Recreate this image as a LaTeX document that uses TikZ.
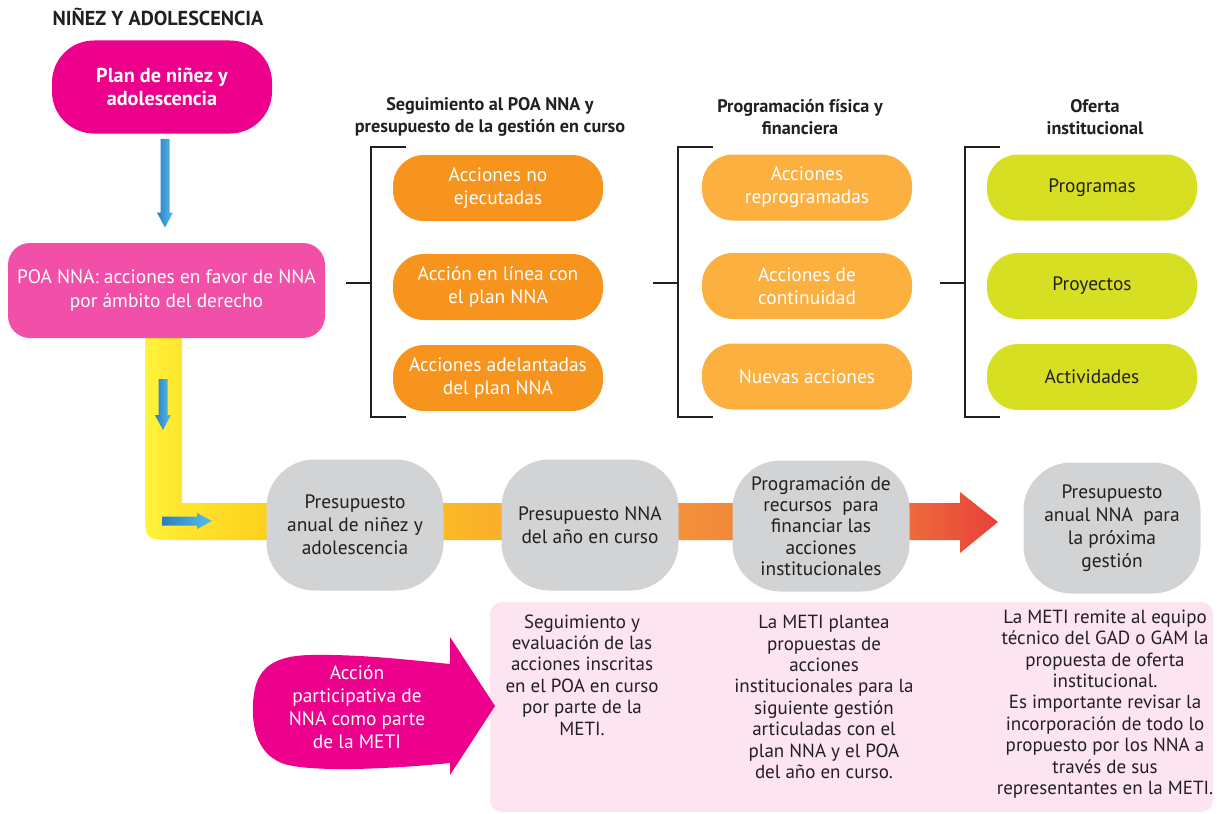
\documentclass[tikz,border=0pt]{standalone}
\usepackage{fontspec}
\setmainfont{PT Sans}
\usetikzlibrary{calc}

\definecolor{magentafuerte}{HTML}{EC008C}
\definecolor{rosapoa}{HTML}{F24FA9}
\definecolor{naranja}{HTML}{F7941E}
\definecolor{naranjaclaro}{HTML}{FBB040}
\definecolor{lima}{HTML}{D7DF23}
\definecolor{gris}{HTML}{D1D3D4}
\definecolor{rosapanel}{HTML}{FCE4F1}
\definecolor{tinta}{HTML}{231F20}
\definecolor{azulosc}{HTML}{2A7DC1}
\definecolor{azulcla}{HTML}{55C0EC}
\definecolor{am1}{HTML}{FFF33B}
\definecolor{am2}{HTML}{FFE52D}
\definecolor{am3}{HTML}{FDD31D}
\definecolor{nb1}{HTML}{FBB926}
\definecolor{nb2}{HTML}{F3903A}
\definecolor{rj1}{HTML}{EE6A3B}
\definecolor{rj2}{HTML}{E8403A}

\pgfdeclarehorizontalshading{banda}{100bp}{color(0bp)=(am1); color(25bp)=(am1);
  color(27.2bp)=(am2); color(31.7bp)=(am3); color(42.6bp)=(nb1); color(56.4bp)=(nb2);
  color(69.8bp)=(rj1); color(75bp)=(rj2); color(100bp)=(rj2)}

\newcommand{\letra}{\fontsize{9.7}{11.6}\selectfont}
\newcommand{\letrap}{\fontsize{9.5}{10.7}\selectfont}

% flechas azules (desde #1 hasta la punta #2)
\newcommand{\flechabaja}[2]{%
  \shade[flechaazul] ($(#1)+(-4.5,0)$) -- ($(#2)+(-4.5,-15)$) -- ($(#2)+(-8,-15)$) -- (#2)
    -- ($(#2)+(8,-15)$) -- ($(#2)+(4.5,-15)$) -- ($(#1)+(4.5,0)$) -- cycle;}
\newcommand{\flechader}[2]{%
  \shade[flechaazul] ($(#1)+(0,-4.5)$) -- ($(#2)+(-15,-4.5)$) -- ($(#2)+(-15,-8)$) -- (#2)
    -- ($(#2)+(-15,8)$) -- ($(#2)+(-15,4.5)$) -- ($(#1)+(0,4.5)$) -- cycle;}

\tikzset{
  titulo/.style={font=\fontsize{10.1}{12}\selectfont\bfseries, text=tinta},
  encabezado/.style={font=\fontsize{9.1}{11}\selectfont\bfseries, text=tinta, align=center},
  nube/.style={rounded corners=15.5pt, align=center, font=\letra, inner sep=0pt,
    minimum width=105pt, minimum height=33pt},
  accnaranja/.style={nube, fill=naranja, text=white},
  accclaro/.style={nube, fill=naranjaclaro, text=white},
  oferta/.style={nube, fill=lima, text=tinta},
  presup/.style={nube, fill=gris, text=tinta, rounded corners=24pt,
    minimum width=88.5pt, minimum height=65.5pt},
  corchete/.style={line width=1pt, draw=tinta},
  flechaazul/.style={left color=azulosc, right color=azulcla},
  textopanel/.style={align=center, font=\letrap, text=tinta, inner sep=0pt},
}

\begin{document}
\begin{tikzpicture}[x=0.5pt,y=-0.5pt]
  \useasboundingbox (0,0) rectangle (1218,813);

  \node[titulo] (tit) at (158,17) {NIÑEZ Y ADOLESCENCIA};

  % banda amarilla a roja
  \shade[shading=banda] (145,338) -- (145,510) .. controls (145,540) .. (175,540)
    -- (960,540) -- (960,553) -- (998,522) -- (960,492) -- (960,503)
    -- (182,503) -- (182,338) -- cycle;

  \node[nube, fill=magentafuerte, text=white, font=\fontsize{10.1}{11.6}\selectfont\bfseries,
    minimum width=110pt, minimum height=46.5pt, rounded corners=21pt] (plan) at (162,87)
    {Plan de niñez y\\adolescencia};
  \node[nube, fill=rosapoa, text=white, minimum width=158.5pt, minimum height=47.5pt,
    rounded corners=11pt] (poa) at (166.5,290.5)
    {POA NNA: acciones en favor de NNA\\por ámbito del derecho};

  \coordinate (f1a) at ($(plan.south)+(3,5)$);
  \coordinate (f1b) at ($(poa.north)+(-1.5,-15)$);
  \flechabaja{f1a}{f1b}
  \coordinate (f2a) at (163,379);
  \coordinate (f2b) at (163,430);
  \flechabaja{f2a}{f2b}
  \coordinate (f3a) at (162,521);
  \coordinate (f3b) at (212,521);
  \flechader{f3a}{f3b}

  % encabezados y corchetes
  \node[encabezado] (enc1) at (490,117) {Seguimiento al POA NNA y\\presupuesto de la gestión en curso};
  \node[encabezado] (enc2) at (800,117) {Programación física y\\financiera};
  \node[encabezado] (enc3) at (1095,117) {Oferta\\institucional};

  \foreach \bx in {371,678,965} {
    \draw[corchete] (\bx+35,147) -- (\bx,147) -- (\bx,417) -- (\bx+35,417);
    \draw[corchete] (\bx-25,283) -- (\bx,283);
  }

  \node[accnaranja] (noej) at (498,188) {Acciones no\\ejecutadas};
  \node[accnaranja] (linea) at (498,287) {Acción en línea con\\el plan NNA};
  \node[accnaranja] (adel) at (498,378) {Acciones adelantadas\\del plan NNA};

  \node[accclaro] (repro) at (807,187.5) {Acciones\\reprogramadas};
  \node[accclaro] (conti) at (807,286) {Acciones de\\continuidad};
  \node[accclaro] (nuevas) at (807,376.5) {Nuevas acciones};

  \node[oferta] (progr) at (1092,187.5) {Programas};
  \node[oferta] (proy) at (1092,286) {Proyectos};
  \node[oferta] (activ) at (1092,377) {Actividades};

  % presupuestos
  \node[presup] (pres1) at (355,525) {Presupuesto\\anual de niñez y\\adolescencia};
  \node[presup] (pres2) at (590,525) {Presupuesto NNA\\del año en curso};
  \node[presup, font=\fontsize{9.7}{10.7}\selectfont] (pres3) at (821,526)
    {Programación de\\recursos\ \ para\\financiar las\\acciones\\institucionales};
  \node[presup] (pres4) at (1112,528) {Presupuesto\\anual NNA\ \ para\\la próxima\\gestión};

  % panel rosado
  \node[fill=rosapanel, rounded corners=6pt, minimum width=361.5pt, minimum height=105pt,
    inner sep=0pt] (panel) at (851.5,707) {};
  \node[textopanel] (seg) at (582,675) {Seguimiento y\\evaluación de las\\acciones inscritas\\en el POA en curso\\por parte de la\\METI.};
  \node[textopanel] (plantea) at (824,697) {La METI plantea\\propuestas de\\acciones\\institucionales para la\\siguiente gestión\\articuladas con el\\plan NNA y el POA\\del año en curso.};
  \node[textopanel] (remite) at (1105,704) {La METI remite al equipo\\técnico del GAD o GAM la\\propuesta de oferta\\institucional.\\Es importante revisar la\\incorporación de todo lo\\propuesto por los NNA a\\través de sus\\representantes en la METI.};

  % flecha de participacion
  \fill[magentafuerte] (450,664) -- (450,637) -- (495,706) -- (450,775) -- (450,763)
    .. controls (390,769) and (320,772) .. (288,765)
    .. controls (256,757) and (252,725) .. (253,705)
    .. controls (254,672) and (268,656) .. (310,655)
    .. controls (360,654) and (410,660) .. (450,664) -- cycle;
  \node[align=center, font=\letra, text=white] (accion) at (357,707)
    {Acción\\participativa de\\NNA como parte\\de la METI};
\end{tikzpicture}
\end{document}
